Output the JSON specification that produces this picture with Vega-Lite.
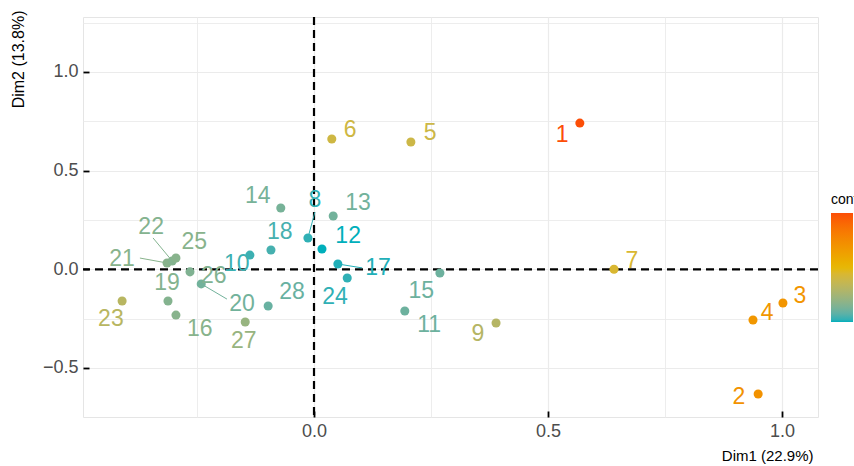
{
  "$schema": "https://vega.github.io/schema/vega-lite/v6.json",
  "width": 735,
  "height": 400,
  "autosize": {"type": "none"},
  "padding": {"left": 83, "top": 17, "right": 36, "bottom": 49},
  "background": "white",
  "config": {
    "view": {"stroke": "#E5E5E5", "strokeWidth": 1},
    "font": "Liberation Sans"
  },
  "data": {
    "values": [
      {"name": "1", "x": 0.568, "y": 0.741, "contrib": 9.8, "lx": 0.530, "ly": 0.681},
      {"name": "2", "x": 0.949, "y": -0.632, "contrib": 7.0, "lx": 0.908, "ly": -0.647},
      {"name": "3", "x": 1.002, "y": -0.171, "contrib": 6.9, "lx": 1.038, "ly": -0.135},
      {"name": "4", "x": 0.938, "y": -0.257, "contrib": 6.8, "lx": 0.968, "ly": -0.221},
      {"name": "5", "x": 0.207, "y": 0.645, "contrib": 4.0, "lx": 0.248, "ly": 0.691},
      {"name": "6", "x": 0.038, "y": 0.660, "contrib": 4.1, "lx": 0.077, "ly": 0.706},
      {"name": "7", "x": 0.641, "y": 0.0, "contrib": 4.5, "lx": 0.679, "ly": 0.042},
      {"name": "8", "x": -0.013, "y": 0.159, "contrib": 0.5, "lx": 0.002, "ly": 0.351, "sx": 0.002, "sy": 0.290},
      {"name": "9", "x": 0.389, "y": -0.272, "contrib": 3.2, "lx": 0.350, "ly": -0.328},
      {"name": "10", "x": -0.137, "y": 0.072, "contrib": 0.6, "lx": -0.165, "ly": 0.027},
      {"name": "11", "x": 0.194, "y": -0.211, "contrib": 1.3, "lx": 0.246, "ly": -0.282},
      {"name": "12", "x": 0.017, "y": 0.103, "contrib": 0.3, "lx": 0.073, "ly": 0.169},
      {"name": "13", "x": 0.041, "y": 0.270, "contrib": 1.4, "lx": 0.094, "ly": 0.336},
      {"name": "14", "x": -0.071, "y": 0.311, "contrib": 1.5, "lx": -0.120, "ly": 0.371},
      {"name": "15", "x": 0.269, "y": -0.019, "contrib": 1.3, "lx": 0.229, "ly": -0.110},
      {"name": "16", "x": -0.295, "y": -0.232, "contrib": 1.9, "lx": -0.244, "ly": -0.302},
      {"name": "17", "x": 0.051, "y": 0.027, "contrib": 0.4, "lx": 0.137, "ly": 0.007, "sx": 0.103, "sy": 0.007},
      {"name": "18", "x": -0.092, "y": 0.098, "contrib": 0.7, "lx": -0.073, "ly": 0.189},
      {"name": "19", "x": -0.312, "y": -0.161, "contrib": 1.8, "lx": -0.314, "ly": -0.069},
      {"name": "20", "x": -0.241, "y": -0.074, "contrib": 1.4, "lx": -0.154, "ly": -0.176, "sx": -0.186, "sy": -0.151},
      {"name": "21", "x": -0.314, "y": 0.032, "contrib": 1.9, "lx": -0.410, "ly": 0.052, "sx": -0.372, "sy": 0.057},
      {"name": "22", "x": -0.303, "y": 0.042, "contrib": 1.8, "lx": -0.348, "ly": 0.214, "sx": -0.344, "sy": 0.159},
      {"name": "23", "x": -0.410, "y": -0.161, "contrib": 3.3, "lx": -0.434, "ly": -0.252},
      {"name": "24", "x": 0.071, "y": -0.044, "contrib": 0.5, "lx": 0.045, "ly": -0.140},
      {"name": "25", "x": -0.295, "y": 0.057, "contrib": 1.9, "lx": -0.256, "ly": 0.138},
      {"name": "26", "x": -0.265, "y": -0.013, "contrib": 1.7, "lx": -0.214, "ly": -0.034},
      {"name": "27", "x": -0.147, "y": -0.267, "contrib": 2.3, "lx": -0.150, "ly": -0.364},
      {"name": "28", "x": -0.098, "y": -0.186, "contrib": 1.2, "lx": -0.047, "ly": -0.115}
    ]
  },
  "encoding": {
    "x": {
      "field": "x", "type": "quantitative",
      "scale": {"domain": [-0.4936, 1.0769], "nice": false, "zero": false},
      "axis": {
        "title": "Dim1 (22.9%)",
        "titleAnchor": "end",
        "titleAlign": "right",
        "titleX": 730,
        "titleFont": "Liberation Sans", "titleFontSize": 15, "titleFontWeight": "normal", "titleColor": "black",
        "titlePadding": 8,
        "values": [-0.25, 0, 0.25, 0.5, 0.75, 1.0],
        "labelExpr": "abs(datum.value*2 - round(datum.value*2)) > 0.01 ? '' : replace(format(datum.value, '.1f'), '-', '\u2212')",
        "labelFont": "Liberation Sans", "labelFontSize": 18, "labelColor": "#4D4D4D", "labelPadding": 5,
        "offset": -6,
        "domain": false,
        "tickSize": 6, "tickWidth": 1.8, "tickColor": "black",
        "tickOpacity": {"condition": {"test": "abs(datum.value*2 - round(datum.value*2)) > 0.01", "value": 0}, "value": 1},
        "grid": true, "gridColor": "#EBEBEB",
        "gridWidth": {"condition": {"test": "abs(datum.value*2 - round(datum.value*2)) > 0.01", "value": 0.9}, "value": 1.2}
      }
    },
    "y": {
      "field": "y", "type": "quantitative",
      "scale": {"domain": [-0.7485, 1.2786], "nice": false, "zero": false},
      "axis": {
        "title": "Dim2 (13.8%)",
        "titleAnchor": "end",
        "titleAlign": "right",
        "titleY": -7,
        "titleFont": "Liberation Sans", "titleFontSize": 16, "titleFontWeight": "normal", "titleColor": "black",
        "titlePadding": 16,
        "values": [-0.5, -0.25, 0, 0.25, 0.5, 0.75, 1.0, 1.25],
        "labelExpr": "abs(datum.value*2 - round(datum.value*2)) > 0.01 ? '' : replace(format(datum.value, '.1f'), '-', '\u2212')",
        "labelFont": "Liberation Sans", "labelFontSize": 18, "labelColor": "#4D4D4D", "labelPadding": 5,
        "offset": -6,
        "domain": false,
        "tickSize": 6, "tickWidth": 1.8, "tickColor": "black",
        "tickOpacity": {"condition": {"test": "abs(datum.value*2 - round(datum.value*2)) > 0.01", "value": 0}, "value": 1},
        "grid": true, "gridColor": "#EBEBEB",
        "gridWidth": {"condition": {"test": "abs(datum.value*2 - round(datum.value*2)) > 0.01", "value": 0.9}, "value": 1.2}
      }
    }
  },
  "resolve": {"legend": {"color": "independent"}},
  "layer": [
    {
      "data": {"values": [{"ref": 0}]},
      "mark": {"type": "rule", "color": "black", "strokeWidth": 2.2, "strokeDash": [8, 5]},
      "encoding": {"x": {"field": "ref", "type": "quantitative"}, "y": null}
    },
    {
      "data": {"values": [{"ref": 0}]},
      "mark": {"type": "rule", "color": "black", "strokeWidth": 2.2, "strokeDash": [8, 5]},
      "encoding": {"y": {"field": "ref", "type": "quantitative"}, "x": null}
    },
    {
      "transform": [{"filter": "isValid(datum.sx)"}],
      "mark": {"type": "rule", "strokeWidth": 1},
      "encoding": {
        "x2": {"field": "sx"},
        "y2": {"field": "sy"},
        "color": {"field": "contrib", "type": "quantitative", "legend": null}
      }
    },
    {
      "mark": {"type": "circle", "size": 82, "opacity": 1},
      "encoding": {
        "color": {
          "field": "contrib", "type": "quantitative",
          "scale": {"range": ["#00AFBB", "#E7B800", "#FC4E07"], "interpolate": "lab"},
          "legend": {
            "type": "gradient",
            "title": "contrib",
            "orient": "none",
            "legendX": 748,
            "legendY": 176,
            "direction": "vertical",
            "gradientLength": 109,
            "gradientThickness": 22,
            "gradientStrokeWidth": 0,
            "titleFont": "Liberation Sans", "titleFontSize": 14, "titleFontWeight": "normal", "titleColor": "black",
            "titlePadding": 6,
            "labelExpr": "''",
            "labelFontSize": 12
          }
        }
      }
    },
    {
      "mark": {"type": "text", "fontSize": 23, "font": "Liberation Sans", "align": "center", "baseline": "middle"},
      "encoding": {
        "x": {"field": "lx", "type": "quantitative"},
        "y": {"field": "ly", "type": "quantitative"},
        "text": {"field": "name"},
        "color": {"field": "contrib", "type": "quantitative", "legend": null}
      }
    }
  ]
}
